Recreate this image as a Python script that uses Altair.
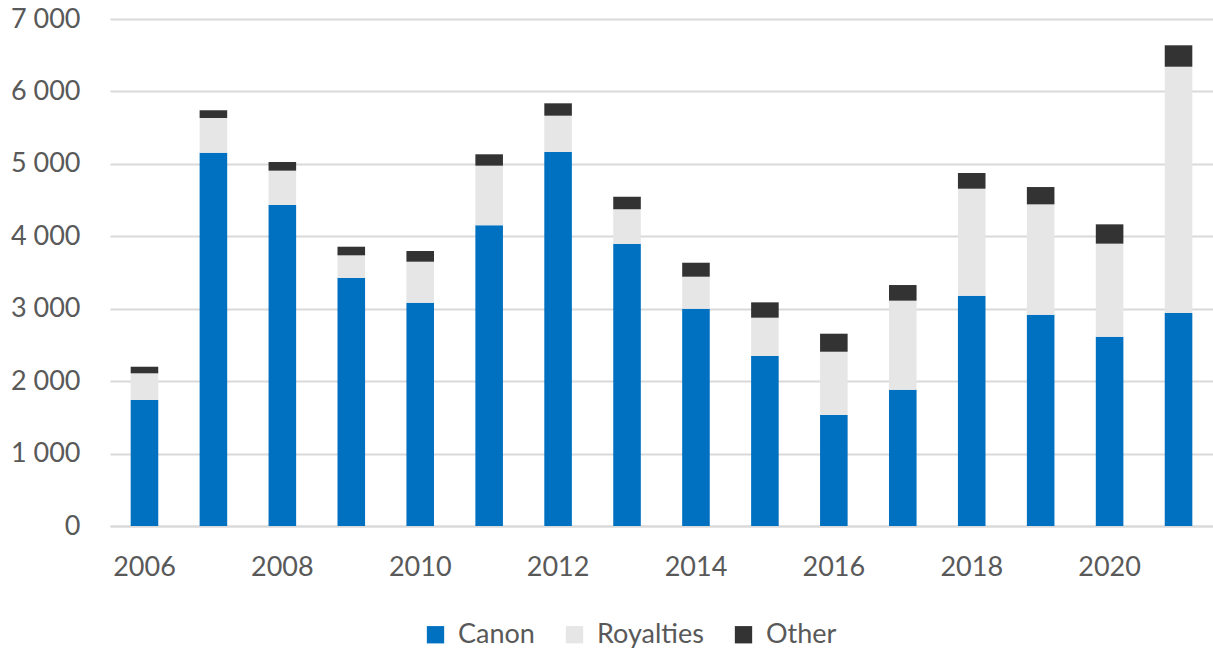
import altair as alt
import pandas as pd

years = [str(y) for y in range(2006, 2022)]
canon = [1740, 5154, 4432, 3424, 3083, 4152, 5164, 3893, 3000, 2347, 1532, 1882, 3180, 2917, 2614, 2941]
royalties = [368, 479, 474, 313, 566, 823, 501, 479, 442, 529, 874, 1229, 1477, 1524, 1284, 3400]
other = [91, 106, 120, 119, 148, 157, 171, 174, 193, 212, 249, 216, 217, 239, 267, 296]
series = ["Canon", "Royalties", "Other"]
colors = ["#0070C0", "#E7E6E6", "#333333"]
tick_years = ["2006", "2008", "2010", "2012", "2014", "2016", "2018", "2020"]
y_ticks = [0, 1000, 2000, 3000, 4000, 5000, 6000, 7000]

rows = []
for i, yr in enumerate(years):
    for k, (name, vals) in enumerate(zip(series, [canon, royalties, other])):
        rows.append({"year": yr, "series": name, "value": vals[i], "order": k})
df = pd.DataFrame(rows)

FONT = "Lato"
LABEL_COLOR = "#595959"

chart = alt.Chart(df).mark_bar().encode(
    x=alt.X("year:N", sort=years, title=None,
            scale=alt.Scale(paddingInner=0.6, paddingOuter=0.3),
            axis=alt.Axis(values=tick_years, labelAngle=0, ticks=False,
                          domain=True, domainColor="#D9D9D9", domainWidth=2,
                          labelFont=FONT, labelFontSize=27, labelColor=LABEL_COLOR,
                          labelPadding=28, grid=False)),
    y=alt.Y("value:Q", stack="zero", title=None,
            scale=alt.Scale(domain=[0, 7000], nice=False),
            axis=alt.Axis(values=y_ticks, ticks=False, domain=False,
                          gridColor="#D9D9D9", gridWidth=2,
                          labelFont=FONT, labelFontSize=27, labelColor=LABEL_COLOR,
                          labelPadding=30,
                          labelExpr="replace(format(datum.value, ','), ',', ' ')")),
    color=alt.Color("series:N", title=None,
                    scale=alt.Scale(domain=series, range=colors),
                    legend=alt.Legend(orient="none", legendX=312, legendY=602,
                                      direction="horizontal", symbolType="square",
                                      symbolSize=300, symbolStrokeWidth=0,
                                      labelFont=FONT, labelFontSize=27,
                                      labelColor=LABEL_COLOR, labelOffset=9,
                                      columnPadding=26)),
    order=alt.Order("order:Q", sort="ascending"),
).properties(
    width=1103, height=507,
    autosize=alt.AutoSizeParams(type="none"),
    padding={"left": 110, "top": 19, "right": 0, "bottom": 125},
    background="white",
).configure_view(stroke=None, strokeWidth=0)

chart.save("out.html", embed_options={"renderer": "svg", "actions": False})
